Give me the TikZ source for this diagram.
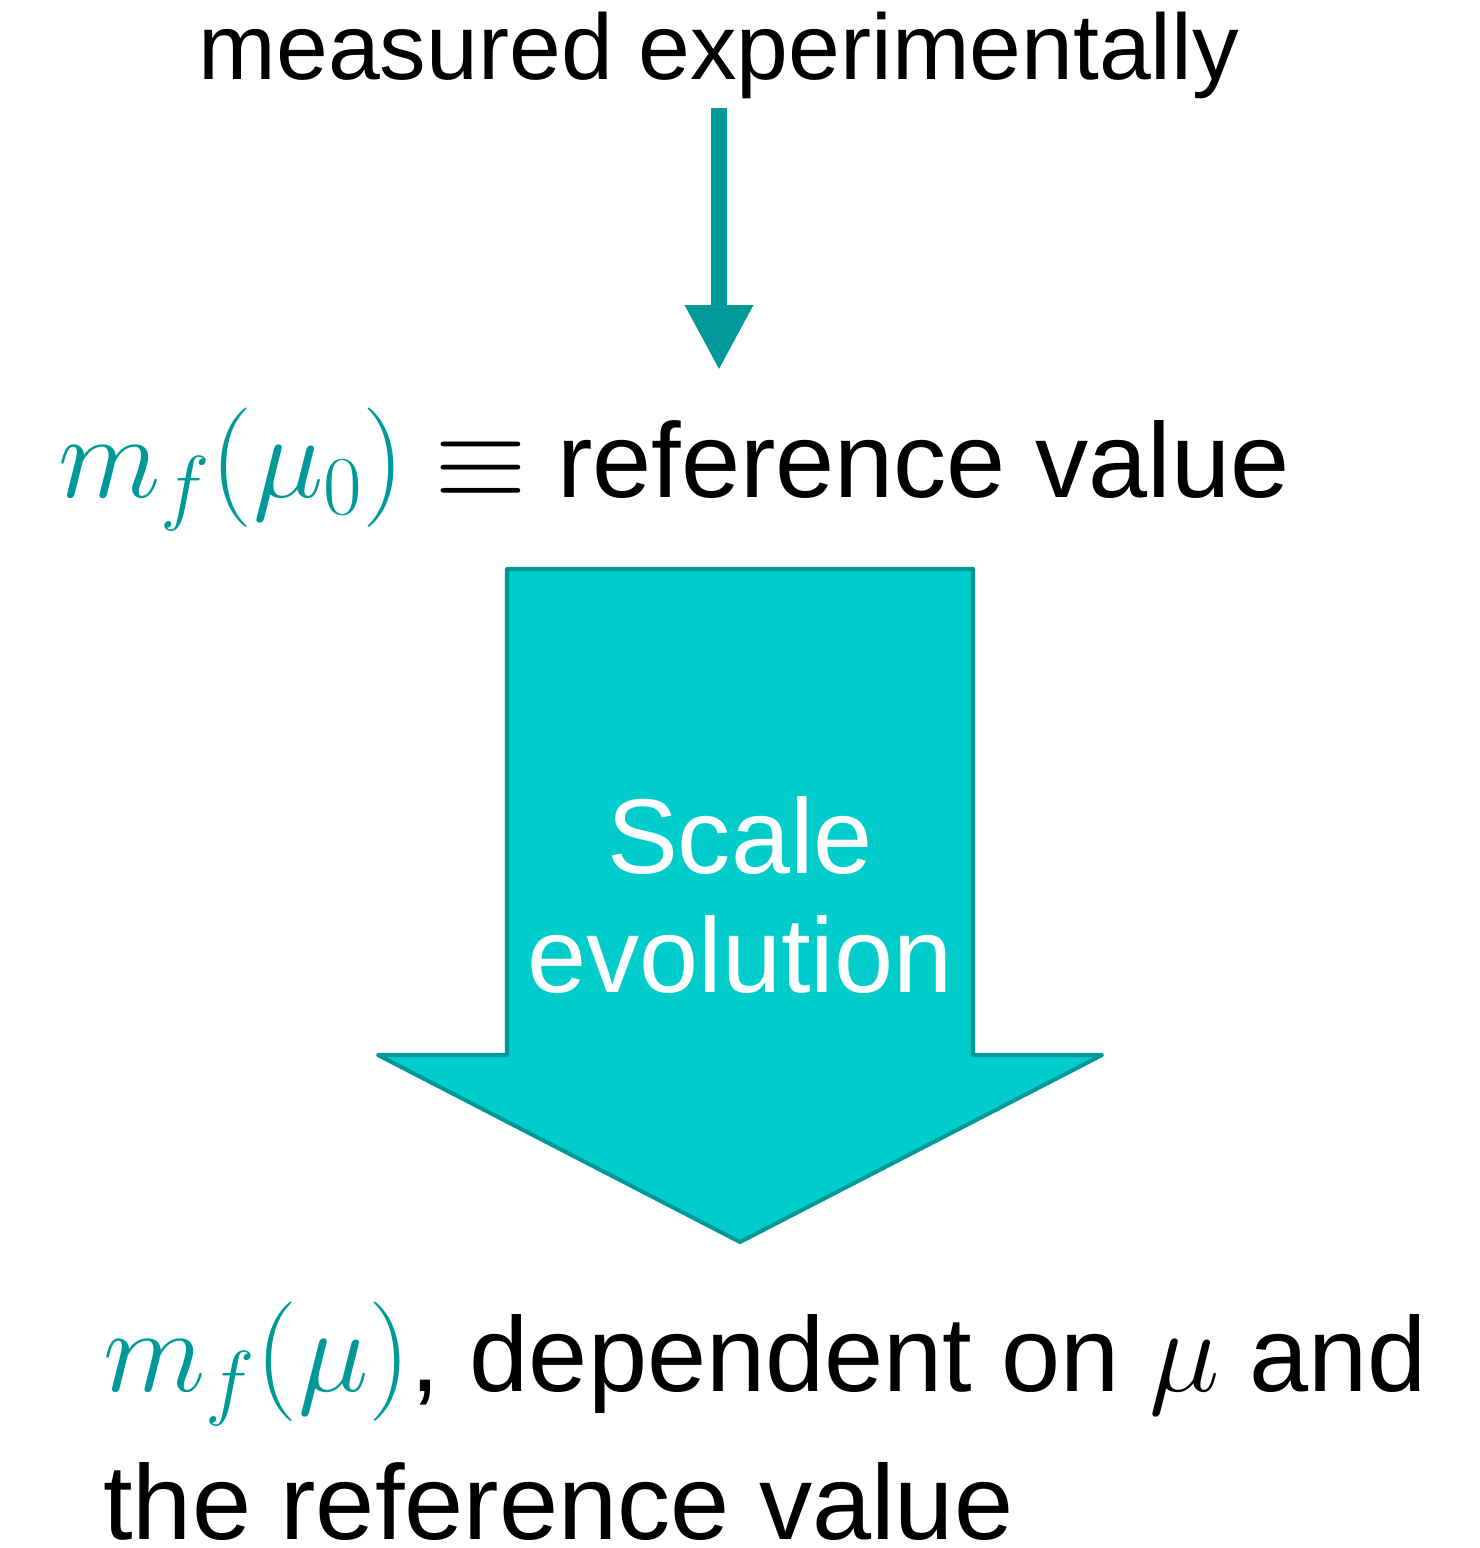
\RequirePackage{fix-cm}
\documentclass[tikz,border=0pt]{standalone}
\usepackage{fontspec}
\setmainfont{Liberation Sans}
\usepackage{xcolor}
\usepackage{tikz}
\usetikzlibrary{
  arrows.meta,
  positioning,
  calc
}
\definecolor{DeepTeal}{RGB}{0,153,153}
\definecolor{BrightTeal}{RGB}{0,204,204}
\newcommand{\mbig}[1]{{\fontsize{68}{84}\selectfont$#1$}}
\newcommand{\mteal}[1]{{\color{DeepTeal}\mbig{#1}}}
\tikzset{
  %%── text nodes ─────────────────────────────────────────────
  toptxt/.style = {
    inner sep = 0pt, font = \fontsize{53}{64}\selectfont
  },
  bigtxt/.style = {
    inner sep = 0pt, align = left,
    font = \fontsize{60.5}{84}\selectfont
  },
  evotxt/.style = {
    inner sep = 0pt, align = center, text = white,
    font = \fontsize{60.5}{68}\selectfont
  },
  %%── arrows ─────────────────────────────────────────────────
  thinarr/.style = {-{Triangle[width=36.3pt,length=37pt]},
    line width = 9pt, color = DeepTeal},
  bigarr/.style  = {draw = DeepTeal, fill = BrightTeal,
    line width = 2.3pt, line join = round},
}
\begin{document}
\begin{tikzpicture}[x=0.02cm, y=-0.02cm]
  \useasboundingbox (0,0) rectangle (1480,1548);

  \node[toptxt, anchor=base] (meas) at (719,80) {measured experimentally};
  \node[bigtxt, anchor=base west] (refval) at (58,497)
    {\mteal{m_f(\mu_0)} \mbig{\equiv} reference value};

  %% scale evolution block arrow
  \filldraw[bigarr] (507,569) -- (973,569) -- (973,1055) -- (1102,1055)
    -- (740,1242) -- (378,1055) -- (507,1055) -- cycle;
  \node[evotxt] (evo) at (740,895) {Scale\\evolution};

  %% base anchor sits on the last line
  \node[bigtxt, anchor=base west] (result) at (103,1539)
    {\mteal{m_f(\mu)}, dependent on \mbig{\mu} and\\the reference value};

  %% arrow
  \draw[thinarr, shorten <=0.16cm, shorten >=0.74cm]
    (meas.south) -- (meas.south |- refval.north);

\end{tikzpicture}
\end{document}
